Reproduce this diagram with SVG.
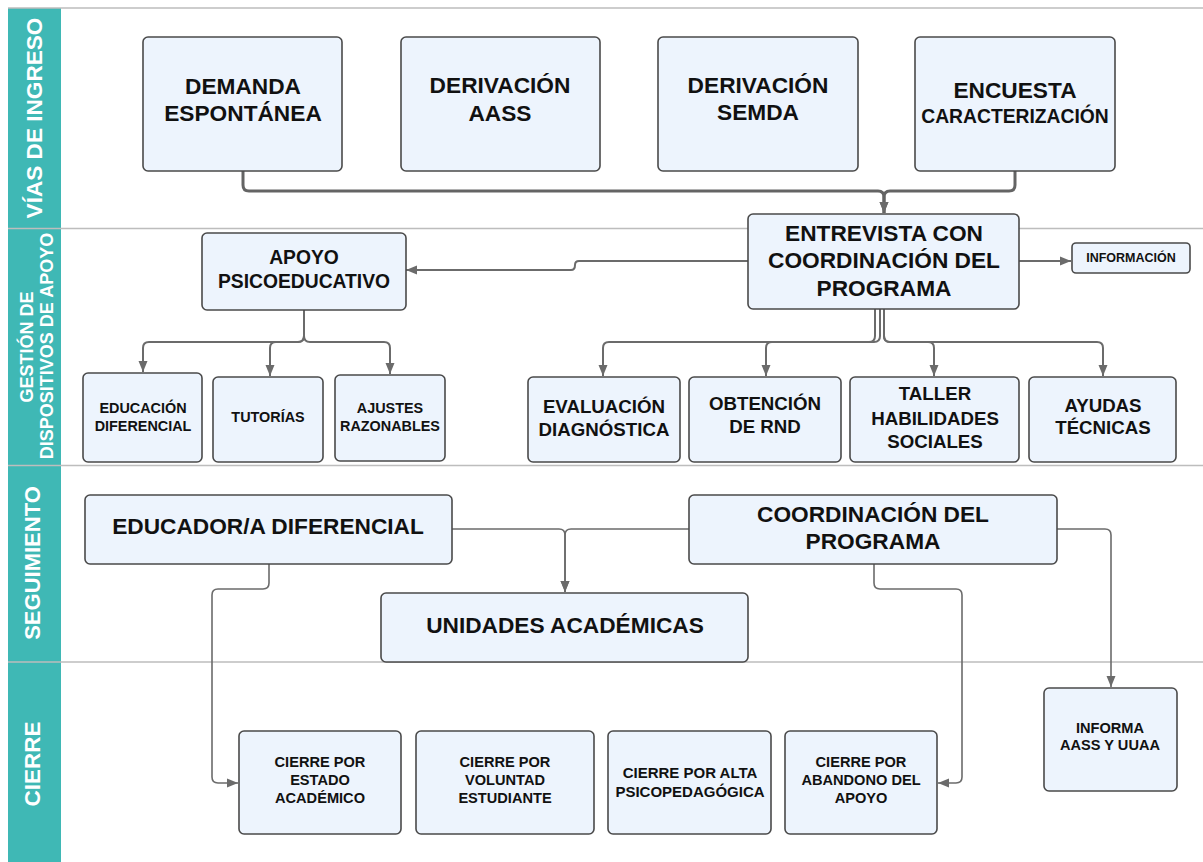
<svg xmlns="http://www.w3.org/2000/svg" width="1203" height="862" viewBox="0 0 1203 862">
<style>
.box{fill:#edf4fd;stroke:#4a4a4a;stroke-width:1.6}
text{font-family:"Liberation Sans",Arial,sans-serif;font-weight:bold;fill:#111;text-anchor:middle}
.lane{fill:#ffffff}
.sep{stroke:#bdbdbd;stroke-width:1.5;fill:none}
.c{fill:none;stroke:#6b6b6b;stroke-width:2}
.c3{fill:none;stroke:#646464;stroke-width:3}
.c1{fill:none;stroke:#6b6b6b;stroke-width:1.6}
.t23{font-size:22.7px}
.t19{font-size:19.3px}
.t18{font-size:18.7px}
.t14{font-size:14.4px}
.t15{font-size:14.6px}
</style>
<defs>
<marker id="ah" markerUnits="userSpaceOnUse" markerWidth="12" markerHeight="10" refX="11" refY="5" orient="auto">
<path d="M0,0.5 L11,5 L0,9.5 z" fill="#6b6b6b"/>
</marker>
</defs>
<rect x="0" y="0" width="1203" height="862" fill="#ffffff"/>
<g id="lanes">
<rect x="8" y="8" width="53" height="854" fill="#3fb8b5"/>
<line class="sep" x1="8" y1="8" x2="1203" y2="8"/>
<line class="sep" x1="8" y1="228.5" x2="1203" y2="228.5"/>
<line class="sep" x1="8" y1="465.5" x2="1203" y2="465.5"/>
<line class="sep" x1="8" y1="662" x2="1203" y2="662"/>
<text class="lane" font-size="22.6" transform="translate(42,118) rotate(-90)">VÍAS DE INGRESO</text>
<text class="lane" font-size="18" transform="translate(33,347) rotate(-90)">GESTIÓN DE</text>
<text class="lane" font-size="18" transform="translate(53,346) rotate(-90)">DISPOSITIVOS DE APOYO</text>
<text class="lane" font-size="22" transform="translate(40,563) rotate(-90)">SEGUIMIENTO</text>
<text class="lane" font-size="22.5" transform="translate(40,764) rotate(-90)">CIERRE</text>
</g>
<g id="connectors">
<path class="c3" d="M243,171 V185 Q243,191 249,191 H878 Q884,191 884,197 V213" marker-end="url(#ah)"/>
<path class="c3" d="M1015,171 V185 Q1015,191 1009,191 H890 Q884,191 884,197 V213" marker-end="url(#ah)"/>
<path class="c" d="M748,261 H579 Q575,261 575,265 Q575,270 571,270 H406" marker-end="url(#ah)"/>
<path class="c" d="M1019,261 H1071" marker-end="url(#ah)"/>
<path class="c" d="M304,310 V336 Q304,342 298,342 H149 Q143,342 143,348 V372" marker-end="url(#ah)"/>
<path class="c" d="M304,310 V336 Q304,342 298,342 H276 Q270,342 270,348 V376" marker-end="url(#ah)"/>
<path class="c" d="M304,310 V336 Q304,342 310,342 H384 Q390,342 390,348 V374" marker-end="url(#ah)"/>
<path class="c" d="M875,309 V336 Q875,342 869,342 H609 Q603,342 603,348 V376" marker-end="url(#ah)"/>
<path class="c" d="M880,309 V336 Q880,342 874,342 H772 Q766,342 766,348 V376" marker-end="url(#ah)"/>
<path class="c" d="M884,309 V336 Q884,342 890,342 H928 Q934,342 934,348 V376" marker-end="url(#ah)"/>
<path class="c" d="M884,309 V336 Q884,342 890,342 H1097 Q1103,342 1103,348 V376" marker-end="url(#ah)"/>
<path class="c1" d="M452,529 H559 Q565,529 565,535 V592" marker-end="url(#ah)"/>
<path class="c1" d="M689,529 H571 Q565,529 565,535 V592" marker-end="url(#ah)"/>
<path class="c1" d="M269,564 V583 Q269,589 263,589 H218 Q212,589 212,595 V777 Q212,783 218,783 H238" marker-end="url(#ah)"/>
<path class="c1" d="M874,564 V583 Q874,589 880,589 H956 Q962,589 962,595 V777 Q962,783 956,783 H938" marker-end="url(#ah)"/>
<path class="c1" d="M1057,529 H1105 Q1111,529 1111,535 V687" marker-end="url(#ah)"/>
</g>
<g id="n-demanda">
<rect class="box" x="143" y="37" width="199" height="134" rx="5"/>
<text class="t23" x="243" y="94">DEMANDA</text>
<text class="t23" x="243" y="121">ESPONTÁNEA</text>
</g>
<g id="n-aass">
<rect class="box" x="401" y="37" width="199" height="134" rx="5"/>
<text class="t23" x="500" y="93">DERIVACIÓN</text>
<text class="t23" x="500" y="121">AASS</text>
</g>
<g id="n-semda">
<rect class="box" x="658" y="37" width="200" height="134" rx="5"/>
<text class="t23" x="758" y="93">DERIVACIÓN</text>
<text class="t23" x="758" y="120">SEMDA</text>
</g>
<g id="n-encuesta">
<rect class="box" x="915" y="37" width="200" height="134" rx="5"/>
<text class="t23" x="1015" y="98">ENCUESTA</text>
<text x="1015" y="123" font-size="19.3">CARACTERIZACIÓN</text>
</g>
<g id="n-entrevista">
<rect class="box" x="748" y="214" width="271" height="95" rx="5"/>
<text class="t23" x="884" y="241">ENTREVISTA CON</text>
<text class="t23" x="884" y="268">COORDINACIÓN DEL</text>
<text class="t23" x="884" y="296">PROGRAMA</text>
</g>
<g id="n-informacion">
<rect class="box" x="1072" y="243" width="118" height="30" rx="4"/>
<text x="1131" y="262" font-size="12.5">INFORMACIÓN</text>
</g>
<g id="n-apoyo">
<rect class="box" x="202" y="233" width="204" height="77" rx="5"/>
<text class="t19" x="304" y="264">APOYO</text>
<text class="t19" x="304" y="288">PSICOEDUCATIVO</text>
</g>
<g id="n-edudif">
<rect class="box" x="83" y="373" width="119" height="89" rx="5"/>
<text class="t14" x="143" y="413">EDUCACIÓN</text>
<text class="t14" x="143" y="431">DIFERENCIAL</text>
</g>
<g id="n-tutorias">
<rect class="box" x="213" y="377" width="110" height="85" rx="5"/>
<text class="t14" x="268" y="422">TUTORÍAS</text>
</g>
<g id="n-ajustes">
<rect class="box" x="335" y="375" width="110" height="86" rx="5"/>
<text class="t14" x="390" y="413">AJUSTES</text>
<text class="t14" x="390" y="431">RAZONABLES</text>
</g>
<g id="n-evaluacion">
<rect class="box" x="528" y="377" width="152" height="85" rx="5"/>
<text class="t18" x="604" y="413">EVALUACIÓN</text>
<text class="t18" x="604" y="436">DIAGNÓSTICA</text>
</g>
<g id="n-rnd">
<rect class="box" x="689" y="377" width="152" height="85" rx="5"/>
<text class="t18" x="765" y="410">OBTENCIÓN</text>
<text class="t18" x="765" y="433">DE RND</text>
</g>
<g id="n-taller">
<rect class="box" x="850" y="377" width="169" height="85" rx="5"/>
<text class="t18" x="935" y="400">TALLER</text>
<text class="t18" x="935" y="425">HABILIDADES</text>
<text class="t18" x="935" y="448">SOCIALES</text>
</g>
<g id="n-ayudas">
<rect class="box" x="1029" y="377" width="147" height="85" rx="5"/>
<text class="t18" x="1103" y="412">AYUDAS</text>
<text class="t18" x="1103" y="434">TÉCNICAS</text>
</g>
<g id="n-educador">
<rect class="box" x="85" y="495" width="367" height="69" rx="5"/>
<text class="t23" x="268" y="534">EDUCADOR/A DIFERENCIAL</text>
</g>
<g id="n-coord">
<rect class="box" x="689" y="495" width="368" height="69" rx="5"/>
<text class="t23" x="873" y="522">COORDINACIÓN DEL</text>
<text class="t23" x="873" y="549">PROGRAMA</text>
</g>
<g id="n-unidades">
<rect class="box" x="381" y="593" width="367" height="69" rx="5"/>
<text class="t23" x="565" y="633">UNIDADES ACADÉMICAS</text>
</g>
<g id="n-c-estado">
<rect class="box" x="239" y="731" width="162" height="103" rx="5"/>
<text class="t15" x="320" y="767">CIERRE POR</text>
<text class="t15" x="320" y="785">ESTADO</text>
<text class="t15" x="320" y="803">ACADÉMICO</text>
</g>
<g id="n-c-voluntad">
<rect class="box" x="416" y="731" width="178" height="103" rx="5"/>
<text class="t15" x="505" y="767">CIERRE POR</text>
<text class="t15" x="505" y="785">VOLUNTAD</text>
<text class="t15" x="505" y="803">ESTUDIANTE</text>
</g>
<g id="n-c-alta">
<rect class="box" x="608" y="731" width="163" height="103" rx="5"/>
<text x="690" y="778" font-size="15">CIERRE POR ALTA</text>
<text x="690" y="797" font-size="15">PSICOPEDAGÓGICA</text>
</g>
<g id="n-c-abandono">
<rect class="box" x="785" y="731" width="152" height="103" rx="5"/>
<text class="t15" x="861" y="767">CIERRE POR</text>
<text class="t15" x="861" y="785">ABANDONO DEL</text>
<text class="t15" x="861" y="803">APOYO</text>
</g>
<g id="n-informa">
<rect class="box" x="1044" y="688" width="133" height="103" rx="5"/>
<text class="t15" x="1110" y="733">INFORMA</text>
<text class="t15" x="1110" y="750">AASS Y UUAA</text>
</g>
</svg>
